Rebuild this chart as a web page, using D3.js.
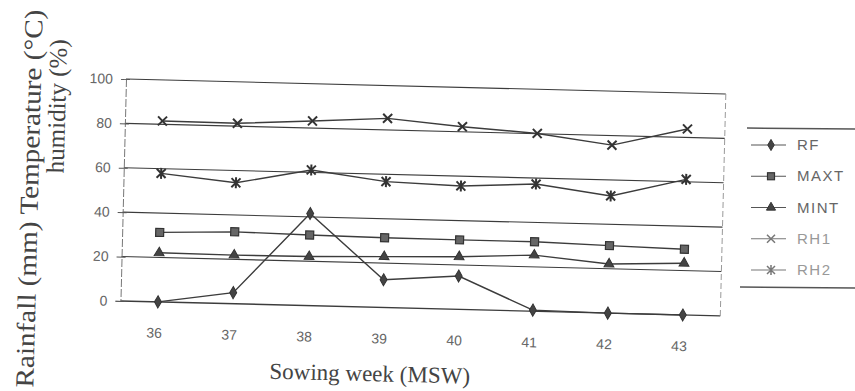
<!DOCTYPE html>
<html>
<head>
<meta charset="utf-8">
<script src="https://cdn.jsdelivr.net/npm/d3@7"></script>
<style>
  body { margin: 0; background: #fff; }
  svg { display: block; }
</style>
</head>
<body>
<div id="chart"></div>
<script>
// values
var weeks = ["36", "37", "38", "39", "40", "41", "42", "43"];
var rf   = [0, 5, 41.5, 12.5, 15, 0.5, 0, 0];
var maxt = [31.3, 32.4, 31.8, 31.4, 31.3, 31.3, 30.4, 29.6];
var mint = [22.1, 21.9, 22.1, 22.9, 23.7, 25.3, 22.1, 23.3];
var rh1  = [81.5, 81.3, 83.2, 85.2, 82.3, 80.1, 75.7, 83.8];
var rh2  = [57.9, 54.5, 61.1, 56.7, 55.6, 57.3, 52.8, 61.1];
var yTicks = [0, 20, 40, 60, 80, 100];
var seriesNames = ["RF", "MAXT", "MINT", "RH1", "RH2"];

var series = [
    { name: "RF", values: rf, marker: "diamond" },
    { name: "MAXT", values: maxt, marker: "square" },
    { name: "MINT", values: mint, marker: "triangle" },
    { name: "RH1", values: rh1, marker: "cross" },
    { name: "RH2", values: rh2, marker: "star" }
];

var W = 855, H = 391;
var plot = { left: 126, top: 79, width: 600, height: 222 };
var ink = "#3c3c3c";

var svg = d3.select("#chart").append("svg")
    .attr("width", W)
    .attr("height", H);

svg.append("rect").attr("width", W).attr("height", H).attr("fill", "#fff");

// the scan is tilted a little clockwise
var g = svg.append("g")
    .attr("transform", "rotate(1.43," + plot.left + "," + plot.top + ")");

var x = d3.scalePoint()
    .domain(weeks)
    .range([plot.left, plot.left + plot.width])
    .padding(0.5);

var y = d3.scaleLinear()
    .domain([0, 100])
    .range([plot.top + plot.height, plot.top]);

// gridlines
g.append("g").selectAll("line")
    .data(yTicks)
    .enter()
    .append("line")
    .attr("x1", plot.left)
    .attr("x2", plot.left + plot.width)
    .attr("y1", function(d) { return y(d); })
    .attr("y2", function(d) { return y(d); })
    .attr("stroke", ink)
    .attr("stroke-width", function(d) { return d === 0 ? 1.4 : 1.1; });

// right border
g.append("line")
    .attr("x1", plot.left + plot.width).attr("x2", plot.left + plot.width)
    .attr("y1", plot.top).attr("y2", plot.top + plot.height)
    .attr("stroke", "#999")
    .attr("stroke-width", 1)
    .attr("stroke-dasharray", "6,3");

// y axis
var yAxis = d3.axisLeft(y).tickValues(yTicks).tickSize(5).tickPadding(8);
var ya = g.append("g")
    .attr("transform", "translate(" + plot.left + ",0)")
    .call(yAxis);
ya.select(".domain").attr("stroke", "#777").attr("stroke-dasharray", "8,2");
ya.selectAll(".tick line").attr("stroke", "#555").attr("x2", 4).attr("x1", -5);
ya.selectAll("text")
    .attr("fill", "#666")
    .style("font-family", "Liberation Sans, Arial, sans-serif")
    .style("font-size", "14px");

// x labels, no tick marks
g.append("g").selectAll("text")
    .data(weeks)
    .enter()
    .append("text")
    .attr("x", function(d) { return x(d) - 3; })
    .attr("y", plot.top + plot.height + 36)
    .attr("text-anchor", "middle")
    .attr("fill", "#666")
    .style("font-family", "Liberation Sans, Arial, sans-serif")
    .style("font-size", "14px")
    .text(function(d) { return d; });

// markers
function drawMarker(sel, type, size) {
    var s = size;
    if (type === "diamond") {
        sel.append("path").attr("d", d3.symbol().type(d3.symbolDiamond).size(s * 6)())
            .attr("fill", "#444").attr("stroke", "#333");
    } else if (type === "square") {
        sel.append("rect").attr("x", -s / 2 - 0.5).attr("y", -s / 2 - 0.5)
            .attr("width", s + 1).attr("height", s + 1)
            .attr("fill", "#666").attr("stroke", "#333").attr("stroke-width", 1.2);
    } else if (type === "triangle") {
        sel.append("path").attr("d", d3.symbol().type(d3.symbolTriangle).size(s * 6)())
            .attr("fill", "#444").attr("stroke", "#333");
    } else if (type === "cross") {
        var h = s / 2 + 1;
        sel.append("path").attr("d", "M" + (-h) + "," + (-h) + "L" + h + "," + h + "M" + (-h) + "," + h + "L" + h + "," + (-h))
            .attr("stroke", "#333").attr("stroke-width", 2).attr("fill", "none");
    } else if (type === "star") {
        var k = s / 2 + 1;
        sel.append("path").attr("d", "M" + (-k) + "," + (-k) + "L" + k + "," + k + "M" + (-k) + "," + k + "L" + k + "," + (-k) + "M0," + (-k - 1) + "L0," + (k + 1))
            .attr("stroke", "#333").attr("stroke-width", 2).attr("fill", "none");
    }
}

var line = d3.line()
    .x(function(d, i) { return x(weeks[i]); })
    .y(function(d) { return y(d); });

series.forEach(function(s) {
    g.append("path")
        .attr("d", line(s.values))
        .attr("fill", "none")
        .attr("stroke", ink)
        .attr("stroke-width", 1.4);

    s.values.forEach(function(v, i) {
        var m = g.append("g")
            .attr("transform", "translate(" + x(weeks[i]) + "," + y(v) + ")");
        drawMarker(m, s.marker, 7);
    });
});

// axis titles (serif, like the scan)
g.append("text")
    .attr("transform", "translate(41,201) rotate(-90)")
    .attr("text-anchor", "middle")
    .attr("textLength", 378)
    .attr("lengthAdjust", "spacingAndGlyphs")
    .attr("fill", "#444")
    .style("font-family", "Liberation Serif, Times New Roman, serif")
    .style("font-size", "26px")
    .text("Rainfall (mm) Temperature (°C)");

g.append("text")
    .attr("transform", "translate(66,108) rotate(-90)")
    .attr("text-anchor", "middle")
    .attr("fill", "#444")
    .style("font-family", "Liberation Serif, Times New Roman, serif")
    .style("font-size", "25px")
    .text("humidity (%)");

g.append("text")
    .attr("x", 377)
    .attr("y", 375)
    .attr("text-anchor", "middle")
    .attr("fill", "#444")
    .style("font-family", "Liberation Serif, Times New Roman, serif")
    .style("font-size", "23px")
    .text("Sowing week (MSW)");

// legend, drawn flat at the right edge
var legend = svg.append("g");
legend.append("line").attr("x1", 747).attr("x2", W).attr("y1", 128).attr("y2", 129)
    .attr("stroke", "#555").attr("stroke-width", 1.5);
legend.append("line").attr("x1", 740).attr("x2", W).attr("y1", 287).attr("y2", 288)
    .attr("stroke", "#555").attr("stroke-width", 1.5);

var legendY = d3.scalePoint().domain(seriesNames).range([145, 270]);

series.forEach(function(s) {
    var ly = legendY(s.name);
    var isRH = s.name.indexOf("RH") === 0;
    legend.append("line")
        .attr("x1", 751).attr("x2", 786)
        .attr("y1", ly).attr("y2", ly)
        .attr("stroke", isRH ? "#777" : "#555")
        .attr("stroke-width", 1.2);
    var m = legend.append("g").attr("transform", "translate(771," + ly + ")");
    drawMarker(m, s.marker, 6);
    if (isRH) m.selectAll("path").attr("stroke", "#777").attr("stroke-width", 1.5);
    legend.append("text")
        .attr("x", 797)
        .attr("y", ly + 5)
        .attr("fill", isRH ? "#999" : "#666")
        .style("font-family", "Liberation Sans, Arial, sans-serif")
        .style("font-size", "15px")
        .style("letter-spacing", "1.5px")
        .text(s.name);
});
</script>
</body>
</html>
